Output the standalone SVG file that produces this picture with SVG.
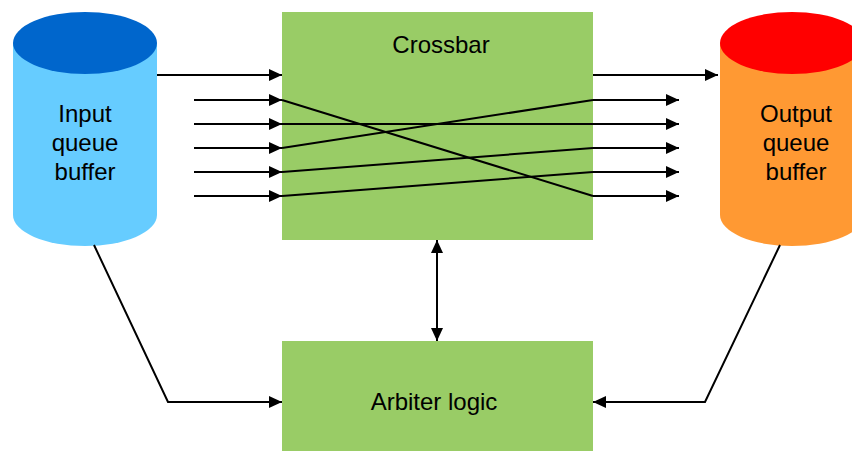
<svg xmlns="http://www.w3.org/2000/svg" width="852" height="451" viewBox="0 0 852 451">
<style>
.lbl{font-family:"Liberation Sans",Arial,sans-serif;font-size:24px;fill:#000;text-anchor:middle}
.ln{stroke:#000;stroke-width:2;fill:none}
.box{fill:#99CC66}
</style>
<defs>
<marker id="ah" markerWidth="13" markerHeight="12" refX="13" refY="6" orient="auto" markerUnits="userSpaceOnUse">
<path d="M0,0 L13,6 L0,12 Z" fill="#000"/>
</marker>
<marker id="as" markerWidth="13" markerHeight="12" refX="0" refY="6" orient="auto" markerUnits="userSpaceOnUse">
<path d="M13,0 L0,6 L13,12 Z" fill="#000"/>
</marker>
</defs>
<rect width="852" height="451" fill="#fff"/>
<g id="input-queue">
<path d="M13,43 L13,215 A72,31 0 0 0 157,215 L157,43 Z" fill="#66CCFF"/>
<ellipse cx="85" cy="43" rx="72" ry="31" fill="#0066CC"/>
<text class="lbl" x="85" y="122">Input</text>
<text class="lbl" x="85" y="151">queue</text>
<text class="lbl" x="85" y="180">buffer</text>
</g>
<g id="output-queue">
<path d="M720,43 L720,215 A72,31 0 0 0 864,215 L864,43 Z" fill="#FF9933"/>
<ellipse cx="792" cy="43" rx="72" ry="31" fill="#FF0000"/>
<text class="lbl" x="796" y="122">Output</text>
<text class="lbl" x="796" y="151">queue</text>
<text class="lbl" x="796" y="180">buffer</text>
</g>
<g id="crossbar">
<rect class="box" x="282" y="12" width="311" height="228"/>
<text class="lbl" x="441" y="53">Crossbar</text>
</g>
<g id="arbiter">
<rect class="box" x="282" y="341" width="311" height="110"/>
<text class="lbl" x="434" y="410">Arbiter logic</text>
</g>
<g id="connectors">
<line class="ln" x1="157" y1="75" x2="282" y2="75" marker-end="url(#ah)"/>
<line class="ln" x1="593" y1="75" x2="718" y2="75" marker-end="url(#ah)"/>
<line class="ln" x1="194" y1="100" x2="282" y2="100" marker-end="url(#ah)"/>
<line class="ln" x1="194" y1="124" x2="282" y2="124" marker-end="url(#ah)"/>
<line class="ln" x1="194" y1="148" x2="282" y2="148" marker-end="url(#ah)"/>
<line class="ln" x1="194" y1="172" x2="282" y2="172" marker-end="url(#ah)"/>
<line class="ln" x1="194" y1="196" x2="282" y2="196" marker-end="url(#ah)"/>
<line class="ln" x1="282" y1="100" x2="593" y2="196"/>
<line class="ln" x1="282" y1="124" x2="593" y2="124"/>
<line class="ln" x1="282" y1="148" x2="593" y2="100"/>
<line class="ln" x1="282" y1="172" x2="593" y2="148"/>
<line class="ln" x1="282" y1="196" x2="593" y2="172"/>
<line class="ln" x1="593" y1="100" x2="679" y2="100" marker-end="url(#ah)"/>
<line class="ln" x1="593" y1="124" x2="679" y2="124" marker-end="url(#ah)"/>
<line class="ln" x1="593" y1="148" x2="679" y2="148" marker-end="url(#ah)"/>
<line class="ln" x1="593" y1="172" x2="679" y2="172" marker-end="url(#ah)"/>
<line class="ln" x1="593" y1="196" x2="679" y2="196" marker-end="url(#ah)"/>
<line class="ln" x1="437" y1="240" x2="437" y2="341" marker-start="url(#as)" marker-end="url(#ah)"/>
<polyline class="ln" points="94,245 168,402 282,402" marker-end="url(#ah)"/>
<polyline class="ln" points="780,245 705,402 593,402" marker-end="url(#ah)"/>
</g>
</svg>
